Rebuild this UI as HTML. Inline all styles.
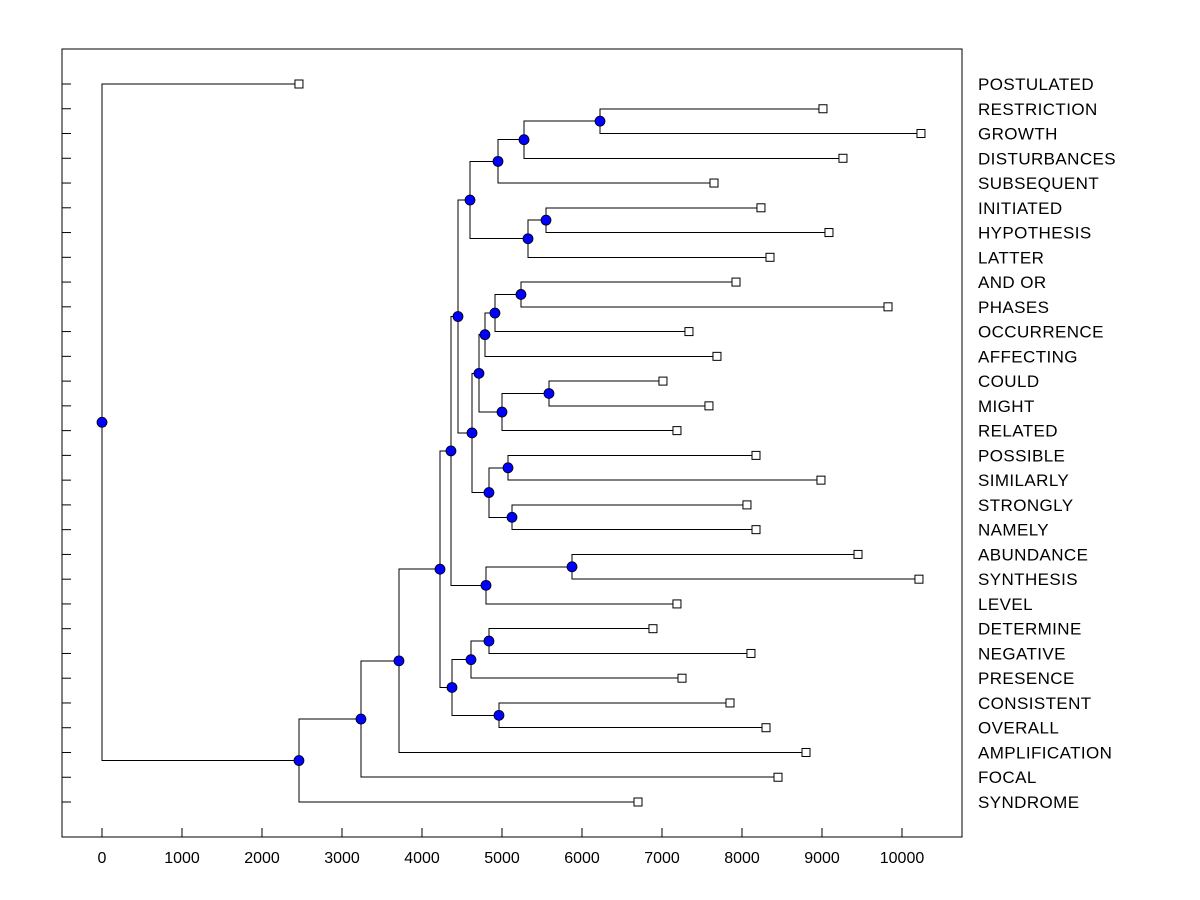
<!DOCTYPE html>
<html><head><meta charset="utf-8"><style>
body{margin:0;background:#fff;}
svg{display:block;font-family:"Liberation Sans",Arial,sans-serif;}
</style></head><body>
<svg id="chart" width="1200" height="900">
<rect x="62" y="49" width="900" height="788" fill="none" stroke="#000" stroke-width="1"/>
<g id="g"></g>
</svg>
<script>
const leafLabels=["POSTULATED","RESTRICTION","GROWTH","DISTURBANCES","SUBSEQUENT","INITIATED","HYPOTHESIS","LATTER","AND OR","PHASES","OCCURRENCE","AFFECTING","COULD","MIGHT","RELATED","POSSIBLE","SIMILARLY","STRONGLY","NAMELY","ABUNDANCE","SYNTHESIS","LEVEL","DETERMINE","NEGATIVE","PRESENCE","CONSISTENT","OVERALL","AMPLIFICATION","FOCAL","SYNDROME"];
const leafValues=[2462,9012,10237,9262,7650,8237,9087,8350,7925,9825,7337,7687,7012,7587,7187,8175,8987,8062,8175,9450,10212,7187,6887,8112,7250,7850,8300,8800,8450,6700];
const nodeChildren=[["L1","L2"],["N0","L3"],["N1","L4"],["L5","L6"],["N3","L7"],["N2","N4"],["L8","L9"],["N6","L10"],["N7","L11"],["L12","L13"],["N9","L14"],["N8","N10"],["L15","L16"],["L17","L18"],["N12","N13"],["N11","N14"],["N5","N15"],["L19","L20"],["N17","L21"],["N16","N18"],["L22","L23"],["N20","L24"],["L25","L26"],["N21","N22"],["N19","N23"],["N24","L27"],["N25","L28"],["N26","L29"],["L0","N27"]];
const nodeHeights=[6225,5275,4950,5550,5325,4600,5237,4912,4787,5587,5000,4712,5075,5125,4837,4625,4450,5875,4800,4362,4837,4612,4962,4375,4225,3712,3237,2462,0];
const xTicks=[0,1000,2000,3000,4000,5000,6000,7000,8000,9000,10000];

const NS="http://www.w3.org/2000/svg";
const g=document.getElementById('g');
const xs=v=>102+v*0.08;
const y0=84, y1=802;
const ys=i=>y0+i*(y1-y0)/(leafLabels.length-1);
function mk(t,a){const e=document.createElementNS(NS,t);for(const k in a)e.setAttribute(k,a[k]);g.appendChild(e);return e;}
function pos(id){
  const i=+id.slice(1);
  if(id[0]==="L") return {x:xs(leafValues[i]),y:ys(i)};
  return nodePos[i];
}
const nodePos=[];
nodeChildren.forEach((c,i)=>{
  const a=pos(c[0]),b=pos(c[1]);
  nodePos[i]={x:xs(nodeHeights[i]),y:(a.y+b.y)/2};
});
nodeChildren.forEach((c,i)=>{
  const p=nodePos[i];const a=pos(c[0]),b=pos(c[1]);
  const e=mk('path',{d:`M${a.x},${a.y}H${p.x}V${b.y}H${b.x}`,fill:'none',stroke:'#000','stroke-width':1,'shape-rendering':'crispEdges'});
  
  
});
leafLabels.forEach((l,i)=>{
  const y=ys(i);
  const t=mk('line',{x1:62,x2:71,y1:y,y2:y,stroke:'#000'});
  
  
  const r=mk('rect',{x:xs(leafValues[i])-4,y:y-4,width:8,height:8,fill:'#fff',stroke:'#000'});
  
  
  const tx=mk('text',{x:978,y:y+6,'font-size':17,'letter-spacing':'0.4',fill:'#000'});tx.textContent=l;
  
  
});
nodePos.forEach(p=>{
  const c=mk('circle',{cx:p.x,cy:p.y,r:5,fill:'#0000ff',stroke:'#000','stroke-width':0.8});
  
  
});
xTicks.forEach(v=>{
  const t=mk('line',{x1:xs(v),x2:xs(v),y1:828,y2:837,stroke:'#000'});
  
  
  const tx=mk('text',{x:xs(v),y:863,'font-size':16,'text-anchor':'middle',fill:'#000'});tx.textContent=v;
  
  
});
</script>
</body></html>
